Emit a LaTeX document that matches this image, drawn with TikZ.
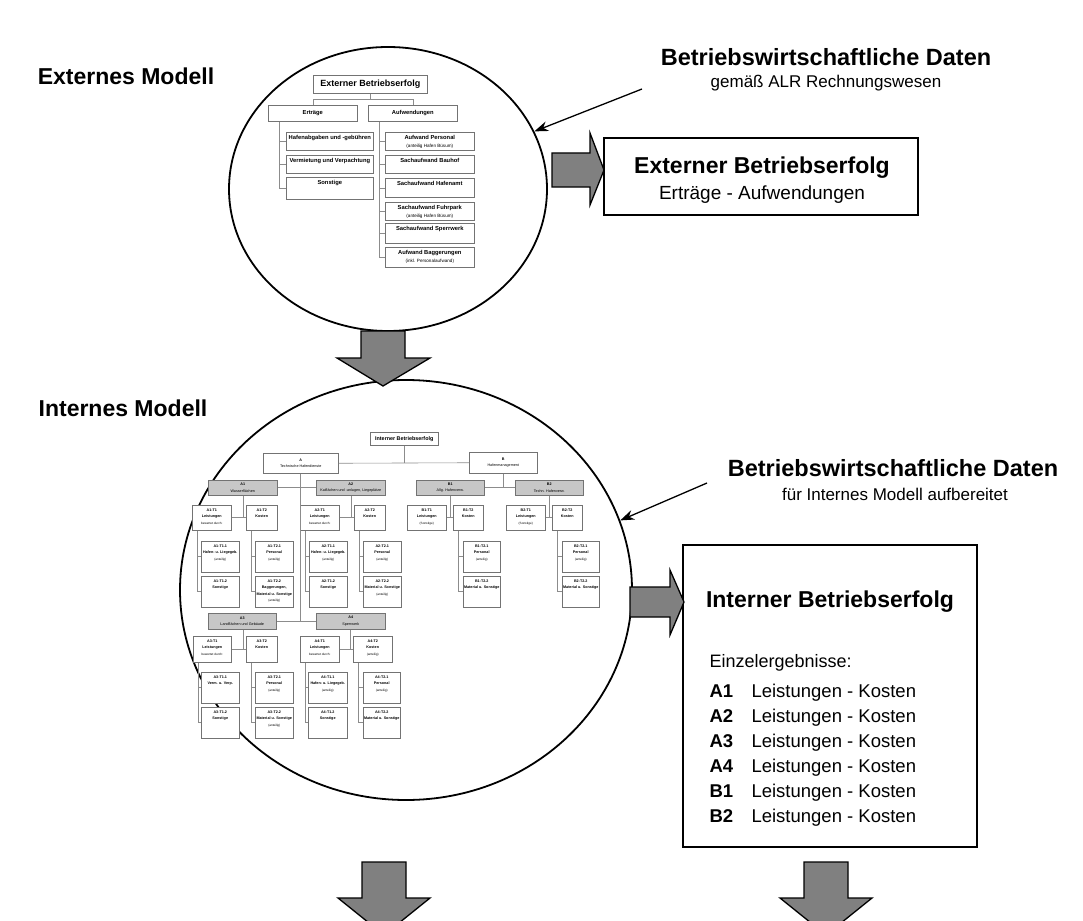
\documentclass[tikz,border=0pt]{standalone}
\usepackage{fontspec}
\setmainfont{Liberation Sans}
\usetikzlibrary{shapes.geometric,arrows.meta,calc}

% Kaestchen im Organigramm: [Textlage]{Stil}{Name}{x1}{y1}{x2}{y2}{Text}
\newcommand{\orgbox}[8][t]{%
  \node[#2, anchor=north west] (#3) at (#4,#5)
    {\parbox[c][\dimexpr#7pt-#5pt\relax][#1]{\dimexpr#6pt-#4pt\relax}{\if t#1\vspace*{3.2pt}\fi\centering #8\par}};}
\newcommand{\esub}[1]{{\fontsize{4.6}{8}\selectfont\mdseries #1}}
\newcommand{\isub}[1]{{\fontsize{3.1}{6.5}\selectfont\mdseries #1}}

\tikzset{
  x=1pt, y=-1pt,
  modell/.style={font=\fontsize{23}{27}\selectfont\bfseries},
  datenkopf/.style={font=\fontsize{23.5}{28}\selectfont\bfseries},
  datenzeile/.style={font=\fontsize{17}{20}\selectfont},
  ergtitel/.style={font=\fontsize{23}{27}\selectfont\bfseries},
  ergzeile/.style={font=\fontsize{19}{22}\selectfont},
  kugel/.style={draw, ellipse, line width=1.8pt, inner sep=0pt},
  ergebnis/.style={draw, line width=1.3pt, inner sep=0pt},
  ebox/.style={draw=black!55, line width=.6pt, fill=white, inner sep=0pt,
    font=\fontsize{5.8}{8}\selectfont\bfseries},
  ekopf/.style={ebox, font=\fontsize{9}{10}\selectfont\bfseries},
  ibox/.style={draw=black!55, line width=.5pt, fill=white, inner sep=0pt,
    font=\fontsize{3.7}{6.5}\selectfont\bfseries},
  igruppe/.style={ibox, fill=black!22},
  ikopf/.style={ibox, font=\fontsize{5.4}{6}\selectfont\bfseries},
  tree/.style={draw=black!45, line width=.6pt},
  pfeil/.style={-{Stealth[length=14pt,width=10pt]}, line width=1.3pt},
  blockpfeil/.style={fill=black!50, draw=black, line width=1.3pt, line join=miter}
}

\begin{document}
\begin{tikzpicture}
  \useasboundingbox (0,0) rectangle (1083,920);

  % die beiden Modelle
  \node[kugel, minimum width=318pt, minimum height=284pt] (ext) at (388,189) {};
  \node[kugel, minimum width=452pt, minimum height=420pt] (int) at (406,590) {};
  \node[modell] (extname) at (126,76) {Externes Modell};
  \node[modell] (intname) at (123,408) {Internes Modell};

  % Datenquellen
  \node[datenkopf] (bwd1) at (826,57) {Betriebswirtschaftliche Daten};
  \node[datenzeile] (bwd1s) at (826,83) {gemäß ALR Rechnungswesen};
  \coordinate (p1) at (642,89);
  \draw[pfeil] (p1) -- (ext);
  \node[datenkopf] (bwd2) at (893,468) {Betriebswirtschaftliche Daten};
  \node[datenzeile] (bwd2s) at (895,494) {für Internes Modell aufbereitet};
  \coordinate (p2) at (707,483);
  \draw[pfeil] (p2) -- (int.18);

  % externes Organigramm
  \orgbox[c]{ekopf}{eb}{313}{75}{427}{93}{Externer Betriebserfolg}
  \orgbox[c]{ebox}{ertr}{268}{105}{357}{121}{Erträge}
  \orgbox[c]{ebox}{aufw}{368}{105}{457}{121}{Aufwendungen}
  \orgbox{ebox}{hafab}{286}{132}{373}{150}{Hafenabgaben und -gebühren}
  \orgbox{ebox}{verm}{286}{155}{373}{173}{Vermietung und Verpachtung}
  \orgbox{ebox}{sonst}{286}{177}{373}{199}{Sonstige}
  \orgbox{ebox}{aper}{385}{132}{474}{150}{Aufwand Personal\\\esub{(anteilig Hafen Büsum)}}
  \orgbox{ebox}{bauh}{385}{155}{474}{173}{Sachaufwand Bauhof}
  \orgbox{ebox}{hamt}{385}{178}{474}{197}{Sachaufwand Hafenamt}
  \orgbox{ebox}{fuhr}{385}{202}{474}{220}{Sachaufwand Fuhrpark\\\esub{(anteilig Hafen Büsum)}}
  \orgbox{ebox}{sperr}{385}{223}{474}{243}{Sachaufwand Sperrwerk}
  \orgbox{ebox}{bagg}{385}{247}{474}{267}{Aufwand Baggerungen\\\esub{(inkl. Personalaufwand)}}

  \draw[tree] (eb.south) -- ++(0,6);
  \draw[tree] (ertr.north) -- ++(0,-6) -| (aufw.north);
  \coordinate (el) at ([xshift=11pt]ertr.south west);
  \coordinate (er) at ([xshift=11pt]aufw.south west);
  \draw[tree] (el) |- (sonst.west);
  \foreach \n in {hafab,verm} \draw[tree] (el |- \n.west) -- (\n.west);
  \draw[tree] (er) |- (bagg.west);
  \foreach \n in {aper,bauh,hamt,fuhr,sperr} \draw[tree] (er |- \n.west) -- (\n.west);

  % internes Organigramm
  \orgbox[c]{ikopf}{ib}{370}{432}{438}{445}{Interner Betriebserfolg}
  \orgbox[c]{ibox}{A}{263}{453}{338}{473}{A\\\mdseries Technische Hafendienste}
  \orgbox[c]{ibox}{B}{469}{452}{537}{473}{B\\\mdseries Hafenmanagement}
  \orgbox[c]{igruppe}{a1}{208}{480}{277}{495}{A1\\\mdseries Wasserflächen}
  \orgbox[c]{igruppe}{a2}{316}{480}{385}{495}{A2\\\mdseries Kaiflächen und -anlagen, Liegeplätze}
  \orgbox[c]{igruppe}{b1}{416}{480}{484}{495}{B1\\\mdseries Allg. Hafenverw.}
  \orgbox[c]{igruppe}{b2}{515}{480}{583}{495}{B2\\\mdseries Techn. Hafenverw.}
  \orgbox[c]{igruppe}{a3}{208}{613}{276}{629}{A3\\\mdseries Landflächen und Gebäude}
  \orgbox[c]{igruppe}{a4}{316}{613}{385}{629}{A4\\\mdseries Sperrwerk}

  \orgbox{ibox}{a1t1}{192}{505}{231}{530}{A1-T1\\Leistungen\\\isub{bewertet durch:}}
  \orgbox{ibox}{a1t2}{246}{505}{277}{530}{A1-T2\\Kosten}
  \orgbox{ibox}{a2t1}{300}{505}{339}{530}{A2-T1\\Leistungen\\\isub{bewertet durch:}}
  \orgbox{ibox}{a2t2}{354}{505}{385}{530}{A2-T2\\Kosten}
  \orgbox{ibox}{b1t1}{407}{505}{446}{530}{B1-T1\\Leistungen\\\isub{(Sonstige)}}
  \orgbox{ibox}{b1t2}{453}{505}{483}{530}{B1-T2\\Kosten}
  \orgbox{ibox}{b2t1}{506}{505}{545}{530}{B2-T1\\Leistungen\\\isub{(Sonstige)}}
  \orgbox{ibox}{b2t2}{552}{505}{582}{530}{B2-T2\\Kosten}
  \orgbox{ibox}{a3t1}{193}{636}{231}{662}{A3-T1\\Leistungen\\\isub{bewertet durch:}}
  \orgbox{ibox}{a3t2}{246}{636}{277}{662}{A3-T2\\Kosten}
  \orgbox{ibox}{a4t1}{300}{636}{339}{662}{A4-T1\\Leistungen\\\isub{bewertet durch:}}
  \orgbox{ibox}{a4t2}{353}{636}{392}{662}{A4-T2\\Kosten\\\isub{(anteilig)}}

  \orgbox{ibox}{a1t11}{201}{541}{239}{572}{A1-T1.1\\Hafen- u. Liegegeb.\\\isub{(anteilig)}}
  \orgbox{ibox}{a1t12}{201}{576}{239}{607}{A1-T1.2\\Sonstige}
  \orgbox{ibox}{a1t21}{255}{541}{293}{572}{A1-T2.1\\Personal\\\isub{(anteilig)}}
  \orgbox{ibox}{a1t22}{255}{576}{293}{607}{A1-T2.2\\Baggerungen,\\Material u. Sonstige\\\isub{(anteilig)}}
  \orgbox{ibox}{a2t11}{309}{541}{347}{572}{A2-T1.1\\Hafen- u. Liegegeb.\\\isub{(anteilig)}}
  \orgbox{ibox}{a2t12}{309}{576}{347}{607}{A2-T1.2\\Sonstige}
  \orgbox{ibox}{a2t21}{363}{541}{401}{572}{A2-T2.1\\Personal\\\isub{(anteilig)}}
  \orgbox{ibox}{a2t22}{363}{576}{401}{607}{A2-T2.2\\Material u. Sonstige\\\isub{(anteilig)}}
  \orgbox{ibox}{b1t21}{463}{541}{500}{572}{B1-T2.1\\Personal\\\isub{(anteilig)}}
  \orgbox{ibox}{b1t22}{463}{576}{500}{607}{B1-T2.2\\Material u. Sonstige}
  \orgbox{ibox}{b2t21}{562}{541}{599}{572}{B2-T2.1\\Personal\\\isub{(anteilig)}}
  \orgbox{ibox}{b2t22}{562}{576}{599}{607}{B2-T2.2\\Material u. Sonstige}
  \orgbox{ibox}{a3t11}{201}{672}{239}{703}{A3-T1.1\\Verm. u. Verp.}
  \orgbox{ibox}{a3t12}{201}{707}{239}{738}{A3-T1.2\\Sonstige}
  \orgbox{ibox}{a3t21}{255}{672}{293}{703}{A3-T2.1\\Personal\\\isub{(anteilig)}}
  \orgbox{ibox}{a3t22}{255}{707}{293}{738}{A3-T2.2\\Material u. Sonstige\\\isub{(anteilig)}}
  \orgbox{ibox}{a4t11}{308}{672}{347}{703}{A4-T1.1\\Hafen- u. Liegegeb.\\\isub{(anteilig)}}
  \orgbox{ibox}{a4t12}{308}{707}{347}{738}{A4-T1.2\\Sonstige}
  \orgbox{ibox}{a4t21}{363}{672}{400}{703}{A4-T2.1\\Personal\\\isub{(anteilig)}}
  \orgbox{ibox}{a4t22}{363}{707}{400}{738}{A4-T2.2\\Material u. Sonstige}

  \draw[tree] (ib.south) -- (ib.south |- A.east);
  \draw[tree] (A.east) -- (B.west);
  \draw[tree] (A.south) -- (A.south |- a3.east);
  \draw[tree] (a1.east) -- (a2.west);
  \draw[tree] (a3.east) -- (a4.west);
  \draw[tree] (B.south) -- (B.south |- b1.east);
  \draw[tree] (b1.east) -- (b2.west);
  \foreach \g in {a1,a2,b1,b2,a3,a4} {
    \draw[tree] (\g t1.east) -- (\g t2.west);
    \draw[tree] ([xshift=-3pt]\g t2.west |- \g.south) -- ([xshift=-3pt]\g t2.west);
    \draw[tree] ([xshift=5pt]\g t2.south west) |- (\g t22.west);
    \draw[tree] ([xshift=5pt]\g t2.south west |- \g t21.west) -- (\g t21.west);
  }
  \foreach \g in {a1,a2,a3,a4} {
    \draw[tree] ([xshift=5pt]\g t1.south west) |- (\g t12.west);
    \draw[tree] ([xshift=5pt]\g t1.south west |- \g t11.west) -- (\g t11.west);
  }

  % Ergebnisse
  \node[ergebnis, minimum width=314pt, minimum height=77pt] (extres) at (761,176.5) {};
  \node[ergtitel] (extrest) at (762,168) {Externer Betriebserfolg};
  \node[ergzeile] (extresz) at (762,195) {Erträge - Aufwendungen};

  \node[ergebnis, minimum width=294pt, minimum height=302pt] (intres) at (830,696) {};
  \node[ergtitel] (intrest) at (830,602) {Interner Betriebserfolg};
  \node[ergzeile, font=\fontsize{18}{21}\selectfont, anchor=base west] (einz) at (706,667) {Einzelergebnisse:};
  \foreach \k [count=\i] in {A1,A2,A3,A4,B1,B2} {
    \node[ergzeile, font=\fontsize{18.5}{22}\selectfont\bfseries, anchor=base west] (resk\i) at (706,672+25*\i) {\k};
    \node[ergzeile, font=\fontsize{18.5}{22}\selectfont, anchor=base west] (resv\i) at (748,672+25*\i) {Leistungen - Kosten};
  }

  % Blockpfeile
  \draw[blockpfeil] (552,153) -- (590,153) -- (590,133) -- (604,170) -- (590,205) -- (590,187) -- (552,187) -- cycle;
  \draw[blockpfeil] (361,331) -- (405,331) -- (405,358) -- (430,358) -- (383,386) -- (337,358) -- (361,358) -- cycle;
  \draw[blockpfeil] (630,587) -- (670,587) -- (670,570) -- (684,602) -- (670,635) -- (670,617) -- (630,617) -- cycle;
  \begin{scope}
    \clip (0,0) rectangle (1083,920);
    \draw[blockpfeil] (362,862) -- (406,862) -- (406,898) -- (430,898) -- (384,935) -- (338,898) -- (362,898) -- cycle;
    \draw[blockpfeil] (804,862) -- (848,862) -- (848,898) -- (872,898) -- (826,935) -- (780,898) -- (804,898) -- cycle;
  \end{scope}
\end{tikzpicture}
\end{document}
